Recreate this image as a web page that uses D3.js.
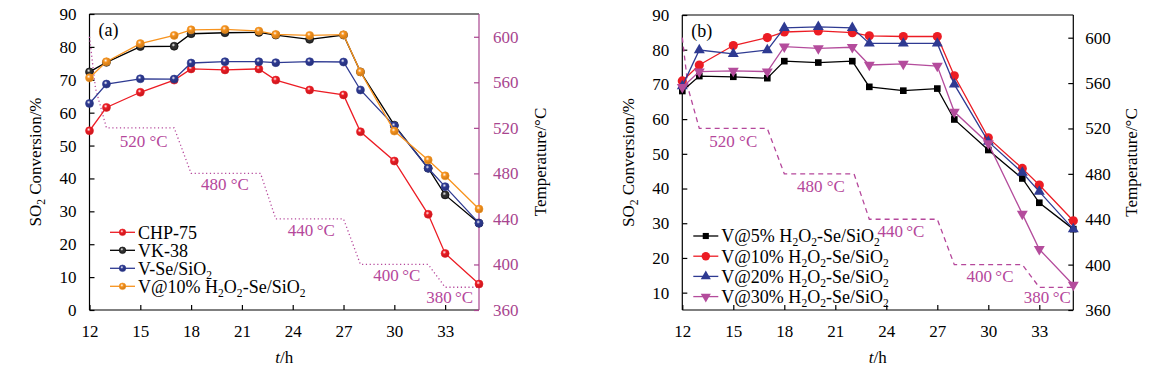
<!DOCTYPE html>
<html><head><meta charset="utf-8">
<script src="https://cdn.jsdelivr.net/npm/d3@7/dist/d3.min.js"></script>
<style>
html,body{margin:0;padding:0;background:#fff;}
svg{display:block;font-family:"Liberation Serif","Times New Roman",serif;}
</style></head>
<body>
<svg id="chart" width="1154" height="369"></svg>
<script>
// ---------- DATA ----------
const hours = [12,13,15,17,18,20,22,23,25,27,28,30,32,33,35];
// panel (a)
const chp75   = [54.5,61.6,66.2,69.9,73.3,73.0,73.3,69.9,66.9,65.4,54.2,45.3,29.1,17.2,7.9];
const vk38    = [72.4,75.3,80.1,80.2,84.0,84.3,84.4,83.6,82.3,83.6,72.4,56.2,43.1,35.0,26.4];
const vSeSiO2 = [62.8,68.7,70.3,70.2,75.1,75.5,75.5,75.2,75.5,75.4,66.9,56.0,43.1,37.5,26.4];
const v10a    = [70.6,75.5,81.0,83.5,85.2,85.3,84.8,83.8,83.5,83.7,72.4,54.4,45.6,40.8,30.7];
// panel (b)
const v5      = [68.1,72.4,72.2,71.8,76.7,76.3,76.7,69.3,68.2,68.8,59.9,51.1,42.9,35.9,28.3];
const v10b    = [71.0,75.6,81.2,83.5,85.1,85.4,84.9,84.0,83.8,83.8,72.5,54.6,45.8,41.0,30.7];
const v20     = [69.5,79.9,78.8,79.9,86.3,86.6,86.3,81.8,81.8,81.8,70.0,53.5,44.6,39.1,28.3];
const v30     = [69.2,73.7,73.9,73.7,80.9,80.4,80.7,75.6,75.9,75.3,62.1,53.0,32.7,22.5,12.2];
// temperature programme
const tempHours = [12,12.35,13,17,18,22.1,23,27,28,32,33,35];
const tempVals  = [600,555,520,520,480,480,440,440,400,400,380,380];
const tempLabels = ["520 °C","480 °C","440\u2009°C","400\u2009°C","380\u2009°C"];
const tempLabelVals = [520,480,440,400,380];
// axis ticks
const xTicks = [12,15,18,21,24,27,30,33];
const yTicksA = [0,10,20,30,40,50,60,70,80,90];
const yTicksB = [10,20,30,40,50,60,70,80,90];
const tTicks = [360,400,440,480,520,560,600];
const namesA = ["CHP-75","VK-38","V-Se/SiO2","V@10% H2O2-Se/SiO2"];
const namesB = ["V@5% H2O2-Se/SiO2","V@10% H2O2-Se/SiO2","V@20% H2O2-Se/SiO2","V@30% H2O2-Se/SiO2"];

// ---------- STYLE ----------
const RED="#ec1c24", BLACK="#000000", BLUE="#2e3a92", ORANGE="#f7931e", PURPLE="#b44c9c";
const TEMPC="#b5479b";
const svg = d3.select("#chart");
const FS = 17;

function richText(sel, str){
  const parts = [];
  const re = /(H2|O2)/g;
  let last = 0, m;
  while((m = re.exec(str))){
    parts.push({t: str.slice(last, m.index) + m[0][0], sub:false});
    parts.push({t: "2", sub:true});
    last = m.index + 2;
  }
  parts.push({t: str.slice(last), sub:false});
  let shifted = false;
  parts.forEach(p=>{
    if(!p.t) return;
    const ts = sel.append("tspan").text(p.t);
    if(p.sub){ ts.attr("font-size", FS*0.68).attr("dy", 4); shifted = true; }
    else if(shifted){ ts.attr("dy", -4); shifted = false; }
  });
}

function panel(cfg){
  const g = svg.append("g");
  const x = d3.scaleLinear().domain([12,35]).range([cfg.x0, cfg.x1]);
  const y = d3.scaleLinear().domain(cfg.yDomain).range([cfg.y1, cfg.y0]);
  const yt = d3.scaleLinear().domain([360,620]).range([cfg.y1, cfg.y0]);

  g.append("line").attr("x1",cfg.x0).attr("x2",cfg.x1).attr("y1",cfg.y0).attr("y2",cfg.y0)
    .attr("stroke","#000").attr("stroke-width",1.2);

  const ax = g.append("g").attr("transform",`translate(0,${cfg.y1})`)
    .call(d3.axisBottom(x).tickValues(xTicks).tickSize(-5).tickSizeOuter(0).tickPadding(15));
  const ay = g.append("g").attr("transform",`translate(${cfg.x0},0)`)
    .call(d3.axisLeft(y).tickValues(cfg.yTicks).tickSize(-5).tickSizeOuter(0).tickPadding(13));
  const ar = g.append("g").attr("transform",`translate(${cfg.x1},0)`)
    .call(d3.axisRight(yt).tickValues(tTicks).tickSize(-5).tickSizeOuter(0).tickPadding(cfg.rPad));
  [ax,ay].forEach(a=>{
    a.selectAll("path,line").attr("stroke","#000").attr("stroke-width",1.2);
    a.selectAll("text").attr("font-size",FS).attr("fill","#000").attr("font-family","Liberation Serif");
  });
  ar.selectAll("path,line").attr("stroke",cfg.rColor).attr("stroke-width",1.2);
  ar.selectAll("text").attr("font-size",FS).attr("fill",cfg.rColor).attr("font-family","Liberation Serif");
  ax.select(".domain").attr("d",`M${cfg.x0},0H${cfg.x1}`);
  ay.select(".domain").attr("d",`M0,${cfg.y1}V${cfg.y0}`);
  ar.select(".domain").attr("d",`M0,${cfg.y1}V${cfg.y0}`);

  const tline = d3.line().x((d,i)=>x(tempHours[i])).y(d=>yt(d));
  g.append("path").attr("d",tline(tempVals)).attr("fill","none")
    .attr("stroke",TEMPC).attr("stroke-width",cfg.tWidth).attr("stroke-dasharray",cfg.tDash);

  tempLabels.forEach((lab,i)=>{
    g.append("text").attr("x",x(cfg.labHours[i])).attr("y",yt(tempLabelVals[i])+cfg.labOff[i])
      .attr("text-anchor","middle").attr("dy","0.35em").attr("font-size",FS).attr("fill",TEMPC).text(lab);
  });

  cfg.series.forEach(s=>{
    const line = d3.line().x((d,i)=>x(hours[i])).y(d=>y(d));
    g.append("path").attr("d",line(s.values)).attr("fill","none").attr("stroke",s.color).attr("stroke-width",1.3);
    s.values.forEach((v,i)=>cfg.marker(g, x(hours[i]), y(v), s));
  });

  cfg.series.forEach((s,i)=>{
    const ly = cfg.legY + i*cfg.legStep;
    g.append("line").attr("x1",cfg.legX).attr("x2",cfg.legX+25).attr("y1",ly).attr("y2",ly)
      .attr("stroke",s.color).attr("stroke-width",1.3);
    cfg.marker(g, cfg.legX+12.5, ly, s, true);
    const t = g.append("text").attr("x",cfg.legX+28).attr("y",ly).attr("dy","0.35em")
      .attr("font-size",FS+1).attr("fill","#000");
    richText(t, s.name);
  });

  g.append("text").attr("x",cfg.x0+9).attr("y",cfg.y0+22).attr("font-size",FS+1).text(cfg.tag);

  const xt = g.append("text").attr("x",(cfg.x0+cfg.x1)/2).attr("y",357).attr("dy","0.35em")
    .attr("text-anchor","middle").attr("font-size",FS);
  xt.append("tspan").attr("font-style","italic").text("t");
  xt.append("tspan").text("/h");

  const ytl = g.append("text").attr("transform",`translate(${cfg.x0-54},${(cfg.y0+cfg.y1)/2}) rotate(-90)`)
    .attr("text-anchor","middle").attr("dy","0.35em").attr("font-size",FS);
  ytl.append("tspan").text("SO");
  ytl.append("tspan").attr("font-size",FS*0.68).attr("dy",4).text("2");
  ytl.append("tspan").attr("dy",-4).text(" Conversion/%");

  g.append("text").attr("transform",`translate(${cfg.x1+cfg.rTitle},${(cfg.y0+cfg.y1)/2}) rotate(-90)`)
    .attr("text-anchor","middle").attr("dy","0.35em").attr("font-size",FS).attr("fill","#000")
    .text("Temperature/°C");
}

const defs = svg.append("defs");
function grad(id, color){
  const rg = defs.append("radialGradient").attr("id",id).attr("cx","40%").attr("cy","35%").attr("r","65%");
  rg.append("stop").attr("offset","0%").attr("stop-color","#ffffff").attr("stop-opacity",0.9);
  rg.append("stop").attr("offset","35%").attr("stop-color",color);
  rg.append("stop").attr("offset","100%").attr("stop-color",d3.color(color).darker(0.6));
}
grad("gR",RED); grad("gK","#333333"); grad("gB",BLUE); grad("gO",ORANGE);

function sphere(g, cx, cy, s, leg){
  g.append("circle").attr("cx",cx).attr("cy",cy).attr("r",leg?3.3:4)
    .attr("fill",`url(#${s.grad})`).attr("stroke",s.color).attr("stroke-width",0.6);
}
function symb(g, cx, cy, s, leg){
  const k = leg?0.85:1;
  let type, size, rot=0;
  if(s.shape==="square"){type=d3.symbolSquare; size=44;}
  else if(s.shape==="circle"){type=d3.symbolCircle; size=66;}
  else if(s.shape==="up"){type=d3.symbolTriangle; size=52;}
  else {type=d3.symbolTriangle; size=52; rot=180;}
  g.append("path").attr("d",d3.symbol(type, size*k)())
    .attr("transform",`translate(${cx},${cy}) rotate(${rot})`).attr("fill",s.color);
}

panel({
  tag:"(a)", x0:89.5, x1:479, y0:14, y1:310, yDomain:[0,90], yTicks:yTicksA,
  rColor:"#a8458f", rPad:14, rTitle:61, tDash:"1.2,2.6", tWidth:1.3,
  labHours:[15.2,20.0,25.1,30.15,33.27], labOff:[13,10.5,11,11,9.5],
  legX:110, legY:232.3, legStep:18, marker:sphere,
  series:[
    {name:namesA[0], values:chp75, color:RED, grad:"gR"},
    {name:namesA[1], values:vk38, color:BLACK, grad:"gK"},
    {name:namesA[2], values:vSeSiO2, color:BLUE, grad:"gB"},
    {name:namesA[3], values:v10a, color:ORANGE, grad:"gO"}
  ]
});
panel({
  tag:"(b)", x0:682.3, x1:1073.3, y0:15, y1:310, yDomain:[5,90], yTicks:yTicksB,
  rColor:"#000", rPad:12, rTitle:58, tDash:"5,4", tWidth:1.3,
  labHours:[15.0,20.16,24.86,30.1,33.47], labOff:[13,12.5,11.5,11.5,9.5],
  legX:693.3, legY:236, legStep:20.2, marker:symb,
  series:[
    {name:namesB[0], values:v5, color:BLACK, shape:"square"},
    {name:namesB[1], values:v10b, color:RED, shape:"circle"},
    {name:namesB[2], values:v20, color:BLUE, shape:"up"},
    {name:namesB[3], values:v30, color:PURPLE, shape:"down"}
  ]
});
</script>
</body></html>
